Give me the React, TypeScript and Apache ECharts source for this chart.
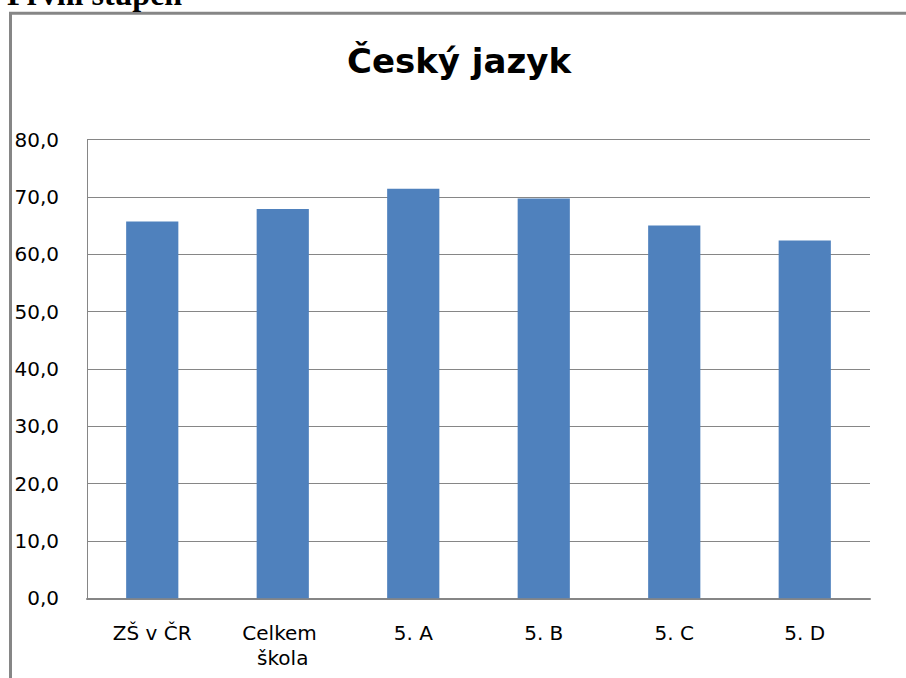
import React, { useEffect, useRef } from "react";
import * as echarts from "echarts";

const categories = ["ZŠ v ČR", "Celkem škola", "5. A", "5. B", "5. C", "5. D"];
const values = [65.7, 67.9, 71.4, 69.7, 65.0, 62.4];
const chartTitle = "Český jazyk";
const pageHeading = "První stupeň";

export default function App() {
  const ref = useRef<HTMLDivElement>(null);
  useEffect(() => {
    if (!ref.current) return;
    const chart = echarts.init(ref.current, null, { renderer: "svg" });
    chart.setOption({
      animation: false,
      backgroundColor: "#ffffff",
      grid: { left: 87, right: 36, top: 139.5, bottom: 79.7, containLabel: false },
      xAxis: {
        type: "category",
        data: categories,
        axisLine: { show: true, lineStyle: { color: "#868686", width: 2 } },
        axisTick: { show: false },
        axisLabel: {
          interval: 0,
          margin: 22,
          fontFamily: "DejaVu Sans",
          fontSize: 20,
          color: "#000000",
          lineHeight: 25,
          width: 110,
          overflow: "break",
        },
      },
      yAxis: {
        type: "value",
        min: 0,
        max: 80,
        interval: 10,
        axisLine: { show: true, lineStyle: { color: "#868686", width: 1 } },
        axisTick: { show: false },
        splitLine: { show: true, lineStyle: { color: "#868686", width: 1 } },
        axisLabel: {
          margin: 28,
          fontFamily: "DejaVu Sans",
          fontSize: 20,
          color: "#000000",
          formatter: (v: number) => v.toFixed(1).replace(".", ","),
        },
      },
      series: [
        {
          type: "bar",
          data: values,
          barWidth: "40%",
          itemStyle: { color: "#4F81BD" },
        },
      ],
      graphic: [
        {
          type: "rect",
          shape: { x: 10.5, y: 13.2, width: 1000, height: 1000 },
          style: { fill: "none", stroke: "#868686", lineWidth: 3 },
          silent: true,
        },
        {
          type: "text",
          x: 7,
          y: -5.8,
          style: {
            text: pageHeading,
            font: "bold 32px 'Liberation Serif'",
            fill: "#000000",
            textAlign: "left",
            textVerticalAlign: "middle",
          },
        },
        {
          type: "text",
          x: 459,
          y: 61.2,
          style: {
            text: chartTitle,
            font: "bold 34px 'DejaVu Sans'",
            fill: "#000000",
            textAlign: "center",
            textVerticalAlign: "middle",
          },
        },
      ],
    });
    return () => chart.dispose();
  }, []);
  return (
    <div
      ref={ref}
      style={{ position: "absolute", left: 0, top: 0, width: 906, height: 678 }}
    />
  );
}
